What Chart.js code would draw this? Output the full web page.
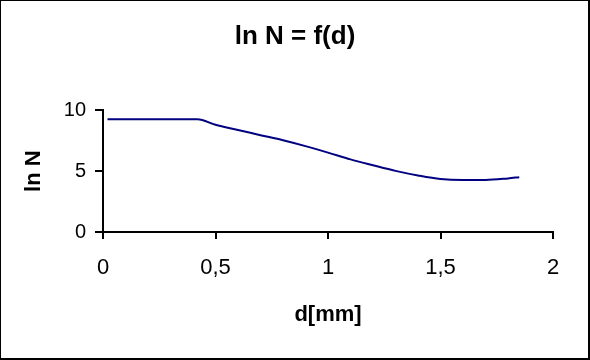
<!DOCTYPE html>
<html>
<head>
<meta charset="utf-8">
<script src="https://cdn.jsdelivr.net/npm/chart.js@4"></script>
<style>
  html, body { margin: 0; padding: 0; background: #fff; }
  #wrap { position: relative; width: 590px; height: 360px; }
  #frame { position: absolute; left: 0; top: 0; width: 590px; height: 360px; box-sizing: border-box;
           border-left: 1px solid #000; border-top: 1px solid #000; border-right: 2px solid #000; border-bottom: 2px solid #000;
           pointer-events: none; }
</style>
</head>
<body>
<div id="wrap">
  <canvas id="c" width="590" height="360"></canvas>
  <div id="frame"></div>
</div>
<script>
const chartTitle = 'ln N = f(d)';
const xAxisTitle = 'd[mm]';
const yAxisTitle = 'ln N';
const dValues = [0.02, 0.42, 0.5, 0.6, 0.7, 0.8, 0.9, 1.0, 1.1, 1.2, 1.3, 1.4, 1.5, 1.6, 1.7, 1.8, 1.85];
const lnNValues = [9.26, 9.26, 8.8, 8.38, 7.95, 7.53, 7.05, 6.52, 5.96, 5.48, 5.02, 4.64, 4.35, 4.27, 4.27, 4.4, 4.5];
const xTickValues = [0, 0.5, 1, 1.5, 2];
const xTickLabels = ['0', '0,5', '1', '1,5', '2'];
const yTickValues = [0, 5, 10];
const yTickLabels = ['0', '5', '10'];

const FONT = 'Liberation Sans, Arial, sans-serif';
const points = dValues.map((d, i) => ({ x: d, y: lnNValues[i] }));

new Chart(document.getElementById('c'), {
  type: 'line',
  data: {
    datasets: [{
      data: points,
      borderColor: '#000080',
      borderWidth: 2,
      pointRadius: 0,
      fill: false,
      cubicInterpolationMode: 'monotone',
      yAxisID: 'y'
    }]
  },
  options: {
    responsive: false,
    animation: false,
    devicePixelRatio: 1,
    layout: { padding: 0 },
    plugins: {
      legend: { display: false },
      tooltip: { enabled: false },
      title: {
        display: true,
        text: chartTitle,
        color: '#000',
        font: { family: FONT, size: 26, weight: 'bold' },
        padding: { top: 21, bottom: 58 }
      }
    },
    scales: {
      x: {
        type: 'linear',
        min: 0, max: 2,
        afterBuildTicks: s => { s.ticks = xTickValues.map(v => ({ value: v })); },
        afterFit: s => { s.height = 128; },
        ticks: {
          color: '#000',
          font: { family: FONT, size: 22 },
          padding: 16,
          maxRotation: 0,
          callback: (v) => xTickLabels[xTickValues.indexOf(v)]
        },
        grid: { drawOnChartArea: false, color: '#000', lineWidth: 2, tickLength: 7 },
        border: { color: '#000', width: 2 },
        title: {
          display: true, text: xAxisTitle, color: '#000',
          font: { family: FONT, size: 22, weight: 'bold' },
          padding: { top: 0, bottom: 32 }
        }
      },
      y: {
        type: 'linear',
        position: 'left',
        min: 0, max: 10,
        afterBuildTicks: s => { s.ticks = yTickValues.map(v => ({ value: v })); },
        afterFit: s => { s.width = 103; },
        ticks: {
          color: '#000',
          font: { family: FONT, size: 20 },
          padding: 9,
          callback: (v) => yTickLabels[yTickValues.indexOf(v)]
        },
        grid: { drawOnChartArea: false, color: '#000', lineWidth: 2, tickLength: 8 },
        border: { color: '#000', width: 2 },
        title: {
          display: true, text: yAxisTitle, color: '#000',
          font: { family: FONT, size: 22, weight: 'bold' },
          padding: { top: 21, bottom: 0 }
        }
      },
      spacer: {
        type: 'linear',
        position: 'right',
        display: true,
        afterFit: s => { s.width = 37; },
        ticks: { display: false },
        grid: { display: false, drawTicks: false },
        border: { display: false },
        title: { display: false }
      }
    }
  }
});
</script>
</body>
</html>
